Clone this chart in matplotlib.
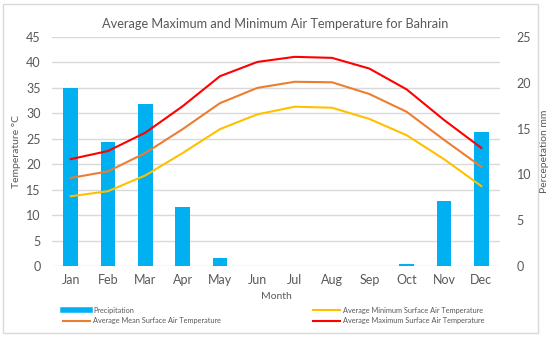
import matplotlib
matplotlib.use("Agg")
import matplotlib.pyplot as plt
from matplotlib.patches import Rectangle
from matplotlib.lines import Line2D

months = ["Jan", "Feb", "Mar", "Apr", "May", "Jun", "Jul", "Aug", "Sep", "Oct", "Nov", "Dec"]
precip = [19.4, 13.5, 17.7, 6.4, 0.9, 0.0, 0.0, 0.0, 0.0, 0.2, 7.1, 14.6]
t_max = [21.0, 22.6, 26.2, 31.4, 37.3, 40.1, 41.1, 40.9, 38.8, 34.7, 28.7, 23.2]
t_mean = [17.3, 18.6, 22.2, 26.9, 32.0, 35.0, 36.2, 36.1, 33.8, 30.3, 24.8, 19.5]
t_min = [13.7, 14.7, 17.8, 22.2, 26.9, 29.8, 31.3, 31.1, 28.9, 25.7, 21.0, 15.7]

plt.rcParams['font.family'] = ['Lato', 'DejaVu Sans']
grey = "#595959"

fig = plt.figure(figsize=(5.5, 3.39), dpi=100)
fig.patches.append(Rectangle((3/550, 6/339), 535/550, 329/339, transform=fig.transFigure,
                             fill=False, edgecolor="#d9d9d9", linewidth=1))
ax = fig.add_axes([52/550, 1-266/339, 448/550, 229/339])
ax2 = ax.twinx()

x = list(range(len(months)))
ax2.bar(x, precip, width=0.4, color="#00b0f0", zorder=2)
ax.set_zorder(ax2.get_zorder() + 1)
ax.patch.set_visible(False)

ax.plot(x, t_min, color="#ffc000", lw=1.5, zorder=3)
ax.plot(x, t_mean, color="#ed7d31", lw=1.5, zorder=3)
ax.plot(x, t_max, color="#ff0000", lw=1.5, zorder=3)

ax.set_ylim(0, 45)
ax2.set_ylim(0, 25)
ax.set_xlim(-0.5, 11.5)
ax.set_yticks(range(0, 46, 5))
ax2.set_yticks(range(0, 26, 5))
ax.set_xticks(x)
ax.set_xticklabels(months)
for a in (ax, ax2):
    for s in a.spines.values():
        s.set_visible(False)
    a.tick_params(length=0, colors=grey, labelsize=9)
ax.tick_params(axis='x', pad=6)
ax.tick_params(axis='y', pad=8)
ax2.tick_params(axis='y', pad=12)
for v in range(0, 46, 5):
    ax2.axhline(v * 25 / 45, color="#d9d9d9", lw=1, zorder=0)

ax.set_ylabel("Temperature °C", color=grey, fontsize=7.5, labelpad=4)
ax2.set_ylabel("Percepetation mm", color=grey, fontsize=7.5, labelpad=6)
ax.set_xlabel("Month", color=grey, fontsize=7.5, labelpad=4)
fig.text(275/550, 1-24/339, "Average Maximum and Minimum Air Temperature for Bahrain",
         ha="center", va="center", color=grey, fontsize=9.2)

def leg_line(x0, y, color, lw, label):
    fig.lines.append(Line2D([x0/550, (x0+27)/550], [1-y/339, 1-y/339], transform=fig.transFigure,
                            color=color, lw=lw))
    fig.text((x0+30)/550, 1-y/339, label, ha="left", va="center", color=grey, fontsize=5.3)

leg_line(63, 310, "#00b0f0", 4, "Precipitation")
leg_line(63, 321, "#ed7d31", 1.5, "Average Mean Surface Air Temperature")
leg_line(313, 310, "#ffc000", 1.5, "Average Minimum Surface Air Temperature")
leg_line(313, 321, "#ff0000", 1.5, "Average Maximum Surface Air Temperature")

fig.savefig("out.png", dpi=100)
